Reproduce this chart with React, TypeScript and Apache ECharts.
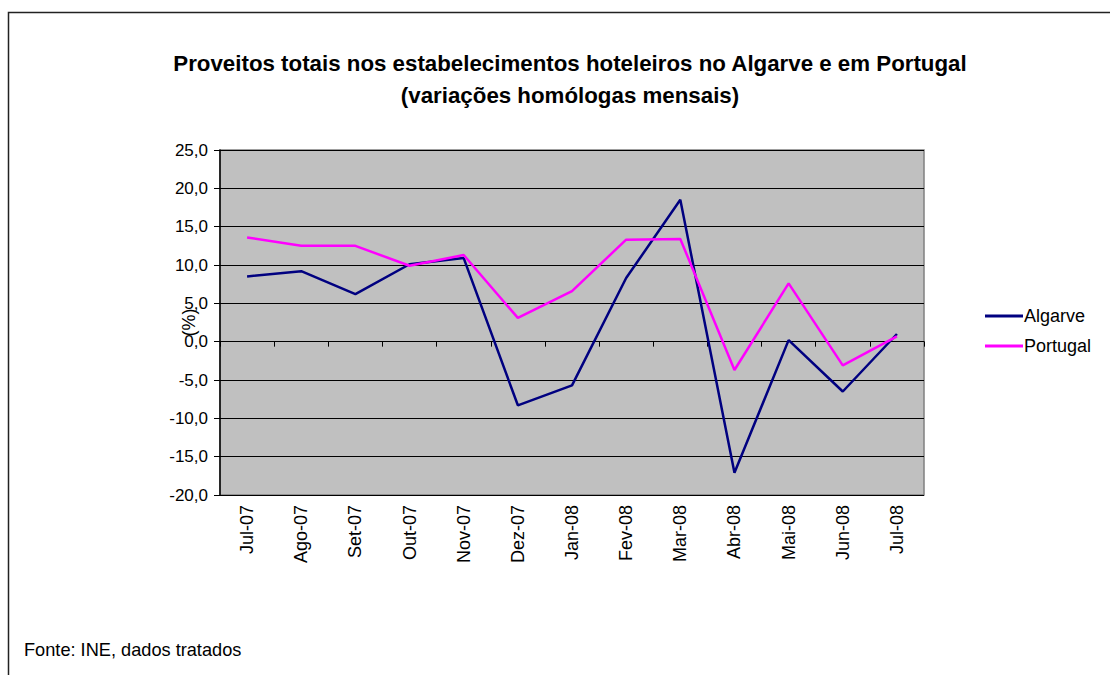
import React, { useEffect, useRef } from "react";
import * as echarts from "echarts";

const categories = ["Jul-07", "Ago-07", "Set-07", "Out-07", "Nov-07", "Dez-07", "Jan-08", "Fev-08", "Mar-08", "Abr-08", "Mai-08", "Jun-08", "Jul-08"];
const algarve = [8.5, 9.2, 6.2, 10.1, 10.9, -8.3, -5.7, 8.3, 18.5, -17.1, 0.2, -6.5, 1.0];
const portugal = [13.6, 12.5, 12.5, 9.9, 11.3, 3.1, 6.6, 13.3, 13.4, -3.7, 7.6, -3.1, 0.7];

const FONT = "Liberation Sans, Arial, sans-serif";

export default function App() {
  const ref = useRef<HTMLDivElement>(null);
  useEffect(() => {
    if (!ref.current) return;
    const chart = echarts.init(ref.current, null, { renderer: "svg" });
    chart.setOption({
      animation: false,
      backgroundColor: "#fff",
      textStyle: { fontFamily: FONT },
      title: {
        text: "Proveitos totais nos estabelecimentos hoteleiros no Algarve e em Portugal\n(variações homólogas mensais)",
        left: 565,
        top: 42,
        textAlign: "center",
        textStyle: { fontFamily: FONT, fontSize: 22.3, fontWeight: "bold", color: "#000", lineHeight: 32 },
      },
      legend: {
        orient: "vertical",
        left: 980,
        top: 302,
        itemWidth: 38,
        itemHeight: 3,
        itemGap: 12,
        icon: "rect",
        textStyle: { fontFamily: FONT, fontSize: 18, color: "#000", padding: [0, 0, 0, -4] },
        data: ["Algarve", "Portugal"],
      },
      grid: {
        left: 220,
        right: 186,
        top: 150,
        bottom: 180,
        show: true,
        backgroundColor: "#c0c0c0",
        borderColor: "#808080",
        borderWidth: 1.5,
      },
      xAxis: [
        {
          type: "category",
          data: categories,
          position: "bottom",
          axisLine: { show: false, onZero: false },
          axisTick: { show: false },
          axisLabel: { rotate: 90, fontSize: 18, color: "#000", fontFamily: FONT, margin: 10 },
        },
        {
          type: "category",
          data: categories,
          position: "bottom",
          axisLine: { show: true, onZero: true, onZeroAxisIndex: 0, lineStyle: { color: "#000", width: 1 } },
          axisTick: { show: true, inside: false, length: 5, lineStyle: { color: "#000" } },
          axisLabel: { show: false },
        },
      ],
      yAxis: {
        type: "value",
        min: -20,
        max: 25,
        interval: 5,
        name: "(%)",
        nameLocation: "middle",
        nameGap: 22,
        nameRotate: 90,
        nameMoveOverlap: false,
        nameTextStyle: { fontSize: 18, color: "#000", fontFamily: FONT },
        axisLine: { show: true, lineStyle: { color: "#000", width: 1.5 } },
        axisTick: { show: true, length: 6, lineStyle: { color: "#000" } },
        axisLabel: {
          fontSize: 17,
          color: "#000",
          fontFamily: FONT,
          margin: 12,
          formatter: (v: number) => v.toFixed(1).replace(".", ","),
        },
        splitLine: { show: true, lineStyle: { color: "#000", width: 1 } },
      },
      series: [
        {
          name: "Algarve",
          type: "line",
          data: algarve,
          xAxisIndex: 0,
          symbol: "none",
          lineStyle: { color: "#000080", width: 2.5 },
          itemStyle: { color: "#000080" },
        },
        {
          name: "Portugal",
          type: "line",
          data: portugal,
          xAxisIndex: 0,
          symbol: "none",
          lineStyle: { color: "#ff00ff", width: 2.5 },
          itemStyle: { color: "#ff00ff" },
        },
      ],
      graphic: [
        {
          type: "rect",
          shape: { x: 8.5, y: 12.5, width: 1200, height: 1000 },
          style: { fill: "none", stroke: "#222", lineWidth: 1.5 },
          silent: true,
        },
        {
          type: "text",
          left: 24,
          top: 641,
          style: { text: "Fonte: INE, dados tratados", fontSize: 18.2, fontFamily: FONT, fill: "#000" },
        },
      ],
    });
    return () => chart.dispose();
  }, []);
  return <div ref={ref} style={{ position: "fixed", left: 0, top: 0, width: 1110, height: 675 }} />;
}
